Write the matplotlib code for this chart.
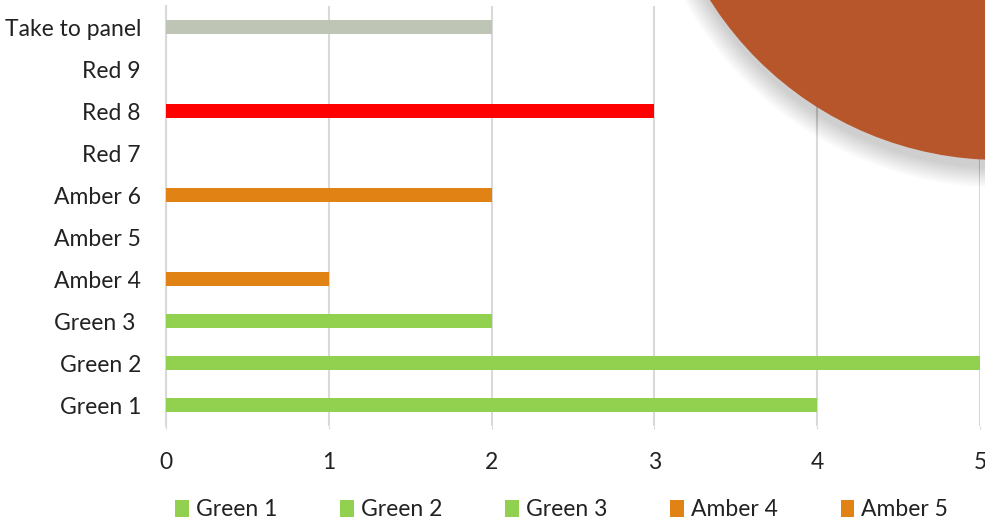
import matplotlib.pyplot as plt
from matplotlib.patches import Patch, Circle

categories = ["Green 1", "Green 2", "Green 3 ", "Amber 4", "Amber 5",
              "Amber 6", "Red 7", "Red 8", "Red 9", "Take to panel"]
values = [4, 5, 2, 1, 0, 2, 0, 3, 0, 2]
colors = ["#92D050", "#92D050", "#92D050", "#E08214", "#E08214",
          "#E08214", "#FF0000", "#FF0000", "#FF0000", "#BFC5B5"]
legend_names = ["Green 1", "Green 2", "Green 3", "Amber 4", "Amber 5"]

plt.rcParams['font.family'] = ['Lato', 'DejaVu Sans']

W, H = 985, 522
fig = plt.figure(figsize=(W / 100, H / 100), dpi=100)
ax = fig.add_axes([166 / W, 1 - 426 / H, (980 - 166) / W, (426 - 6) / H])

y = list(range(len(categories)))
ax.barh(y, values, height=0.34, color=colors, zorder=3)

ax.set_xlim(0, 5)
ax.set_ylim(-0.5, 9.5)
ax.set_yticks(y)
ax.set_yticklabels(categories, fontsize=16.5, color="#222222")
ax.set_xticks(range(6))
ax.set_xticklabels([str(i) for i in range(6)], fontsize=16.5, color="#222222")
ax.tick_params(axis="y", length=0, pad=18)
ax.tick_params(axis="x", length=2, pad=17, color="#D9D9D9")

ax.grid(axis="x", color="#D9D9D9", linewidth=1.5, zorder=0)
for s in ["top", "right", "bottom"]:
    ax.spines[s].set_visible(False)
ax.spines["left"].set_color("#D9D9D9")
ax.spines["left"].set_linewidth(1.5)

handles = [Patch(facecolor=c, edgecolor="none") for c in colors[:5]]
fig.legend(handles, legend_names, loc="center left",
           bbox_to_anchor=(175 / W, 1 - 510 / H), ncol=5, frameon=False,
           fontsize=16.5, handlelength=0.6, handleheight=0.7,
           handletextpad=0.3, columnspacing=2.75, borderaxespad=0,
           borderpad=0, labelcolor="#222222")

# decorative shape overlapping the chart (top right)
over = fig.add_axes([0, 0, 1, 1], zorder=10)
over.set_xlim(0, W)
over.set_ylim(H, 0)
over.axis("off")
cx, cy, r = 1000, -183, 343
for i in range(16):
    over.add_patch(Circle((cx + 2, cy + 8), r + 20 - i * 1.3,
                          facecolor="#000000", alpha=0.01, edgecolor="none"))
over.add_patch(Circle((cx, cy), r, facecolor="#B8562B", edgecolor="none"))

fig.savefig("out.png", dpi=100)
